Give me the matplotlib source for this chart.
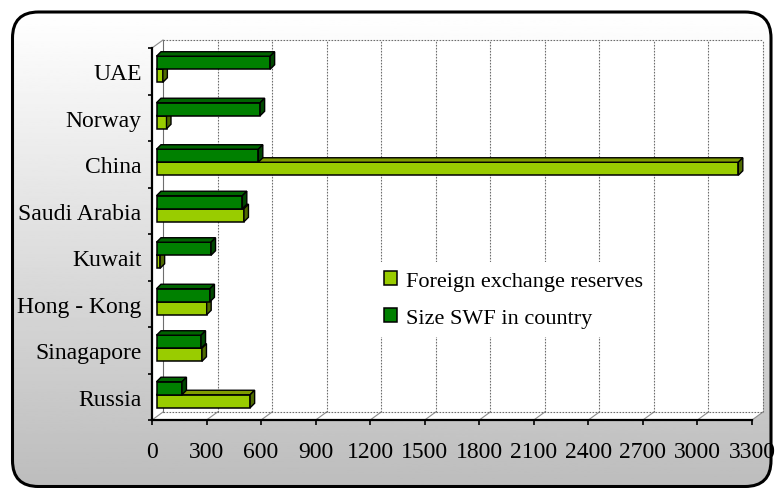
import numpy as np
import matplotlib.pyplot as plt
import matplotlib.transforms as mtransforms
from matplotlib.patches import Polygon, Rectangle, FancyBboxPatch, Patch

plt.rcParams['font.family'] = ['Liberation Serif', 'DejaVu Serif']

countries = ['Russia', 'Sinagapore', 'Hong - Kong', 'Kuwait',
             'Saudi Arabia', 'China', 'Norway', 'UAE']
fx_reserves = [515, 250, 276, 20, 481, 3200, 55, 35]
swf_size = [140, 245, 294, 300, 472, 560, 570, 625]
x_ticks = list(range(0, 3301, 300))
series_names = ['Foreign exchange reserves', 'Size SWF in country']

W, H = 775, 489
fig = plt.figure(figsize=(W / 100, H / 100), dpi=100)
fig.patch.set_facecolor('white')

# rounded panel with a vertical grey gradient
bg = fig.add_axes([0, 0, 1, 1])
bg.axis('off')
frame = FancyBboxPatch((12.5, 13), 758.5, 474.5,
                       boxstyle='round,pad=0,rounding_size=26',
                       facecolor='none', edgecolor='black', linewidth=2.2, zorder=3)
bg.add_patch(frame)
grad = np.linspace(1.0, 0.74, 256).reshape(-1, 1)
img = bg.imshow(grad, cmap='gray', vmin=0, vmax=1, extent=(12, 771, 487, 13),
                aspect='auto', zorder=1)
img.set_clip_path(frame)
bg.set_xlim(0, W)
bg.set_ylim(H, 0)

# plot area (front plane)
ax = fig.add_axes([152 / W, (H - 421) / H, 600 / W, 372 / H])
ax.set_xlim(0, 3300)
ax.set_ylim(-0.5, 7.5)
ax.patch.set_visible(False)

ident = mtransforms.IdentityTransform()
wall_dx, wall_dy = 11, 8
back = ax.transData + mtransforms.Affine2D().translate(wall_dx, wall_dy)

def disp(x, y):
    return ax.transData.transform((x, y))

# back wall
ax.add_patch(Rectangle((0, -0.5), 3300, 8, transform=back, facecolor='white',
                       edgecolor='none', zorder=0.5, clip_on=False))
# floor and side wall
f0, f1 = disp(0, -0.5), disp(3300, -0.5)
t0 = disp(0, 7.5)
floor = [f0, f1, f1 + (wall_dx, wall_dy), f0 + (wall_dx, wall_dy)]
side = [f0, t0, t0 + (wall_dx, wall_dy), f0 + (wall_dx, wall_dy)]
for pts in (floor, side):
    ax.add_patch(Polygon(pts, closed=True, transform=ident, facecolor='white',
                         edgecolor='none', zorder=0.5, clip_on=False))

# grid on the back wall
for xv in x_ticks:
    ls = '-' if xv == 0 else (0, (1.5, 1.2))
    ax.plot([xv, xv], [-0.5, 7.5], transform=back, color='#6e6e6e', lw=0.8,
            ls=ls, zorder=1, clip_on=False)
    p = disp(xv, -0.5)
    ax.plot([p[0], p[0] + wall_dx], [p[1], p[1] + wall_dy], transform=ident,
            color='#8c8c8c', lw=0.8, zorder=1, clip_on=False)
ax.plot([0, 3300], [7.5, 7.5], transform=back, color='#6e6e6e', lw=0.8,
        ls=(0, (1.5, 1.2)), zorder=1, clip_on=False)
ax.plot([0, 3300], [-0.5, -0.5], transform=back, color='#6e6e6e', lw=0.8,
        ls=(0, (1.5, 1.2)), zorder=1, clip_on=False)
ax.plot([t0[0], t0[0] + wall_dx], [t0[1], t0[1] + wall_dy], transform=ident,
        color='#8c8c8c', lw=0.8, zorder=1, clip_on=False)

# bars with top and side faces
h = 0.28
bar_dx, bar_dy = 4.5, 4.5
shift = ax.transData + mtransforms.Affine2D().translate(4.5, 2)
y = np.arange(len(countries))

def bar_3d(ypos, values, front, top, right, z):
    bars = ax.barh(ypos, values, height=h, color=front, edgecolor='black',
                   linewidth=1.1, zorder=z)
    for b in bars:
        b.set_transform(shift)
        b.set_clip_on(False)
        x0, yb = b.get_x(), b.get_y()
        x1, yt = x0 + b.get_width(), yb + b.get_height()
        p_tl = shift.transform((x0, yt))
        p_tr = shift.transform((x1, yt))
        p_br = shift.transform((x1, yb))
        d = np.array([bar_dx, bar_dy])
        ax.add_patch(Polygon([p_tl, p_tl + d, p_tr + d, p_tr], closed=True,
                             transform=ident, facecolor=top, edgecolor='black',
                             linewidth=1.0, zorder=z, clip_on=False))
        ax.add_patch(Polygon([p_br, p_tr, p_tr + d, p_br + d], closed=True,
                             transform=ident, facecolor=right, edgecolor='black',
                             linewidth=1.0, zorder=z, clip_on=False))

bar_3d(y - h / 2, fx_reserves, '#99cc00', '#7f9c00', '#4f6b00', 3)
bar_3d(y + h / 2, swf_size, '#008000', '#006400', '#004800', 4)

# axes
for s in ('top', 'right'):
    ax.spines[s].set_visible(False)
for s in ('left', 'bottom'):
    ax.spines[s].set_linewidth(1.6)
    ax.spines[s].set_zorder(6)

ax.set_xticks(x_ticks)
ax.tick_params(axis='x', length=3.6, width=1.2, direction='out', pad=11.5,
               labelsize=17)
ax.set_yticks(y, countries)
ax.tick_params(axis='y', which='major', length=0, pad=7.5, labelsize=17)
ax.set_yticks(np.arange(-0.5, 8, 1), minor=True)
ax.tick_params(axis='y', which='minor', length=3, width=1.2, direction='out')

handles = [Patch(facecolor='#99cc00', edgecolor='black', linewidth=1.1),
           Patch(facecolor='#008000', edgecolor='black', linewidth=1.1)]
leg = ax.legend(handles, series_names, loc='center left',
                bbox_to_anchor=(375 / W, 1 - 300.5 / H),
                bbox_transform=fig.transFigure, frameon=True, facecolor='white',
                edgecolor='none', framealpha=1, fancybox=False, fontsize=16,
                handlelength=0.6, handleheight=0.6, handletextpad=0.4,
                labelspacing=0.78, borderpad=0.4, borderaxespad=0)
leg.set_zorder(5)

fig.savefig('out.png', dpi=100)
